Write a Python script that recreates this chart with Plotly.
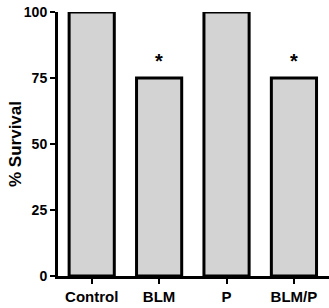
import plotly.graph_objects as go

categories = ["Control", "BLM", "P", "BLM/P"]
survival = [100, 75, 100, 75]
significance = ["", "*", "", "*"]
y_ticks = [0, 25, 50, 75, 100]

font_family = "Liberation Sans, Arial, sans-serif"

fig = go.Figure()
fig.add_trace(go.Bar(
    x=categories,
    y=survival,
    width=0.67,
    marker=dict(color="#d3d3d3", line=dict(color="black", width=3)),
    cliponaxis=False,
    hoverinfo="skip",
))

for cat, val, sig in zip(categories, survival, significance):
    if sig:
        fig.add_annotation(
            x=cat, y=val, yref="y", text=sig, showarrow=False,
            yanchor="bottom", yshift=4,
            font=dict(family=font_family, size=20, color="black", weight="bold"),
        )

fig.add_annotation(
    xref="paper", yref="paper", x=0, y=0.5, xshift=-43,
    xanchor="center", yanchor="middle", textangle=-90,
    text="% Survival", showarrow=False,
    font=dict(family=font_family, size=17, color="black", weight="bold"),
)

fig.update_layout(
    width=329, height=308,
    margin=dict(l=58, r=0, t=12, b=32),
    paper_bgcolor="white", plot_bgcolor="white",
    showlegend=False,
    font=dict(family=font_family, size=14, color="black", weight="bold"),
    bargap=0.33,
)
fig.update_xaxes(
    range=[-0.5, 3.52],
    showline=True, linecolor="black", linewidth=3,
    ticks="outside", ticklen=5, tickwidth=2, tickcolor="black",
    showgrid=False, zeroline=False,
    tickfont=dict(family=font_family, size=15, color="black", weight="bold"),
)
fig.update_yaxes(
    range=[0, 100],
    tickvals=y_ticks,
    showline=True, linecolor="black", linewidth=3,
    ticks="outside", ticklen=5, tickwidth=2, tickcolor="black",
    showgrid=False, zeroline=False,
    tickfont=dict(family=font_family, size=14, color="black", weight="bold"),
)

fig.write_html("out.html")
